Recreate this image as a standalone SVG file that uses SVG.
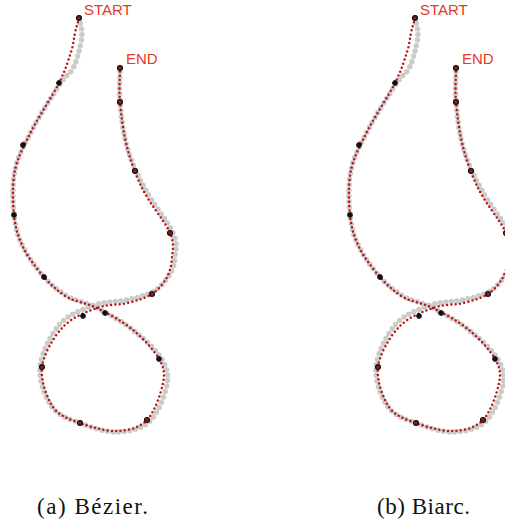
<svg xmlns="http://www.w3.org/2000/svg" xmlns:xlink="http://www.w3.org/1999/xlink" width="505" height="524" viewBox="0 0 505 524">
<style>
.orig{fill:none;stroke:#cbcbcb;stroke-width:5.5;stroke-linecap:round;stroke-dasharray:0 5.6}
.approx{fill:none;stroke:#b81616;stroke-width:2.5;stroke-linecap:round;stroke-dasharray:0 4.3}
.pt{fill:#111;stroke:#111;stroke-width:1}
.ptr{fill:#a01818;stroke:#111;stroke-width:1.3}
.lbl{font-family:"Liberation Sans",Arial,sans-serif;font-size:15px;fill:#e53a1e}
.cap{font-family:"Liberation Serif","Times New Roman",serif;font-size:23px;fill:#111}
</style>
<defs>
<path id="gpath" d="M79,18 C80,23 81.8,28.2 82,33 C82.2,37.8 80.8,42.8 80,47 C79.2,51.2 78.3,54.2 77,58 C75.7,61.8 74.8,65.7 72,70 C69.2,74.3 66.7,74 60,84 C53.3,94 39.5,115.7 32,130 C24.5,144.3 18,155.8 15,170 C12,184.2 12.7,202.2 14,215 C15.3,227.8 18,236.7 23,247 C28,257.3 36.7,268.8 44,277 C51.3,285.2 58.2,290.8 67,296 C75.8,301.2 86,302.3 97,308 C108,313.7 122.3,321.7 133,330 C143.7,338.3 155.3,349 161,358 C166.7,367 168.8,373.5 167,384 C165.2,394.5 158.3,413 150,421 C141.7,429 128.7,431.7 117,432 C105.3,432.3 90.8,427.2 80,423 C69.2,418.8 58.7,416.3 52,407 C45.3,397.7 38.7,380.8 40,367 C41.3,353.2 50.8,334.3 60,324 C69.2,313.7 83.8,309 95,305 C106.2,301 117.2,302.3 127,300 C136.8,297.7 146.8,295.3 154,291 C161.2,286.7 166.5,279.7 170,274 C173.5,268.3 174.5,263.8 175,257 C175.5,250.2 178,244.3 173,233 C168,221.7 152.7,203.3 145,189 C137.3,174.7 131.2,161.5 127,147 C122.8,132.5 121.2,115.2 120,102 C118.8,88.8 120,79.3 120,68"/>
<path id="rpath" d="M79,18 C77.7,23 76.3,27.3 75,33 C73.7,38.7 73.7,43.7 71,52 C68.3,60.3 65.5,70 59,83 C52.5,96 39.3,115.5 32,130 C24.7,144.5 18,155.8 15,170 C12,184.2 12.7,202.2 14,215 C15.3,227.8 18,236.7 23,247 C28,257.3 36.7,268.7 44,277 C51.3,285.3 58.2,291.8 67,297 C75.8,302.2 86,302.5 97,308 C108,313.5 122.7,321.5 133,330 C143.3,338.5 154,350.2 159,359 C164,367.8 165,372.8 163,383 C161,393.2 154.7,412 147,420 C139.3,428 128.2,430.5 117,431 C105.8,431.5 90.7,427 80,423 C69.3,419 59.3,416.3 53,407 C46.7,397.7 40.3,380.3 42,367 C43.7,353.7 53.8,336.8 63,327 C72.2,317.2 86.3,312 97,308 C107.7,304 117.8,305.3 127,303 C136.2,300.7 145.3,298.3 152,294 C158.7,289.7 163.7,283.2 167,277 C170.3,270.8 171.5,264.3 172,257 C172.5,249.7 174.8,244.2 170,233 C165.2,221.8 150.2,204.3 143,190 C135.8,175.7 130.8,161.7 127,147 C123.2,132.3 121.2,115.2 120,102 C118.8,88.8 120,79.3 120,68"/>
<g id="panel">
<use xlink:href="#gpath" class="orig"/>
<use xlink:href="#rpath" class="approx"/>
<g id="points">
<circle class="ptr" cx="79" cy="18" r="2.4"/>
<circle class="pt" cx="59" cy="83" r="2.4"/>
<circle class="pt" cx="23" cy="145" r="2.4"/>
<circle class="pt" cx="14" cy="215" r="2.4"/>
<circle class="pt" cx="44" cy="277" r="2.4"/>
<circle class="pt" cx="105" cy="313" r="2.4"/>
<circle class="pt" cx="159" cy="359" r="2.4"/>
<circle class="ptr" cx="147" cy="420" r="2.4"/>
<circle class="ptr" cx="80" cy="423" r="2.4"/>
<circle class="ptr" cx="42" cy="367" r="2.4"/>
<circle class="pt" cx="83" cy="316" r="2.4"/>
<circle class="ptr" cx="152" cy="294" r="2.4"/>
<circle class="ptr" cx="170" cy="233" r="2.4"/>
<circle class="ptr" cx="135" cy="171" r="2.4"/>
<circle class="ptr" cx="120" cy="102" r="2.4"/>
<circle class="ptr" cx="120" cy="68" r="2.4"/>
</g>
<text class="lbl" x="84" y="14.5">START</text>
<text class="lbl" x="126" y="63.5">END</text>
</g>
</defs>
<g id="bezier">
<use xlink:href="#panel"/>
<text class="cap" x="37" y="514" textLength="111" lengthAdjust="spacing">(a) Bézier.</text>
</g>
<g id="biarc">
<use xlink:href="#panel" transform="translate(336,0)"/>
<text class="cap" x="377" y="514" textLength="93" lengthAdjust="spacing">(b) Biarc.</text>
</g>
</svg>
